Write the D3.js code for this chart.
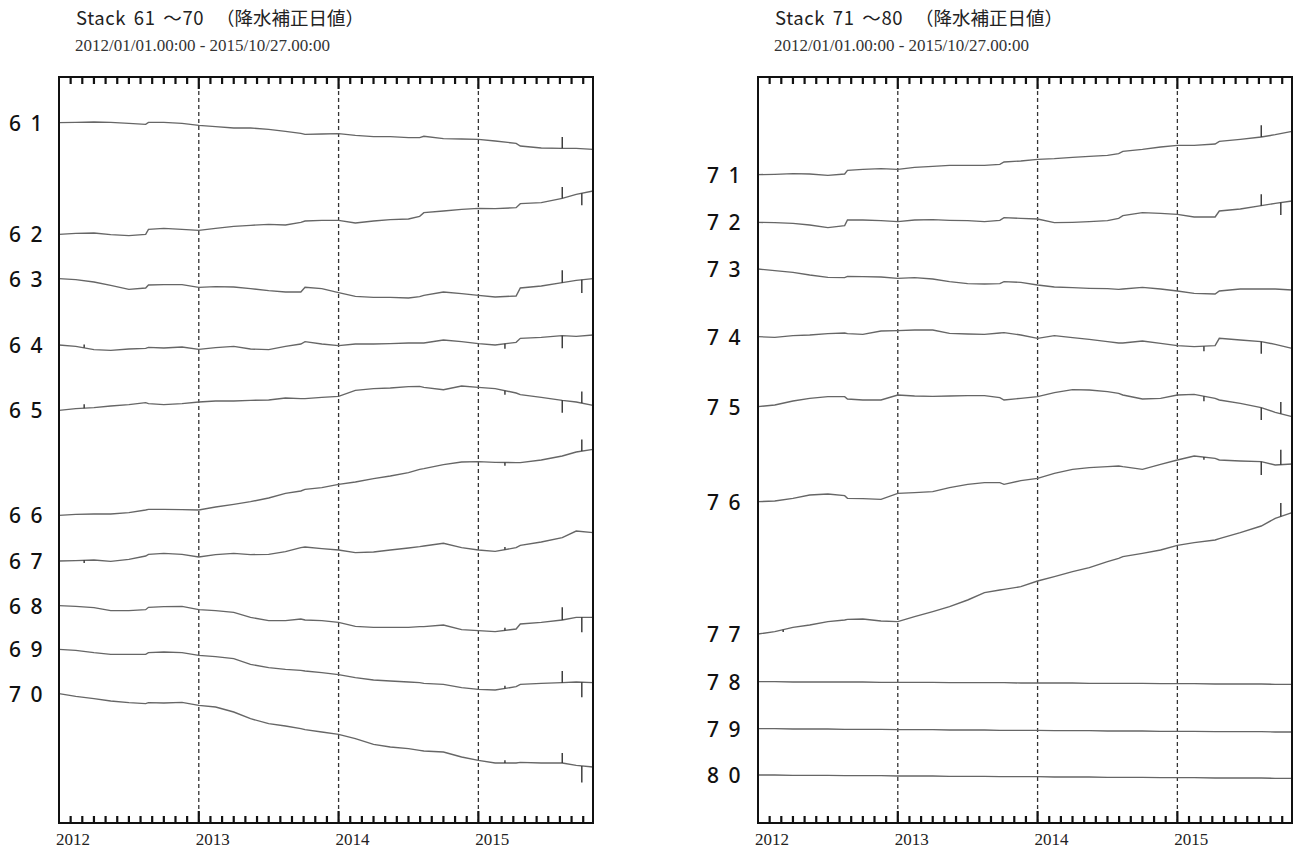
<!DOCTYPE html>
<html><head><meta charset="utf-8">
<script src="https://cdn.jsdelivr.net/npm/d3@7"></script>
<style>body{margin:0;background:#fff}svg{display:block}</style>
</head><body>
<svg id="c" width="1297" height="849" xmlns="http://www.w3.org/2000/svg"></svg>
<script>
// ---- data (decimal years, displacement values in stacked units) ----
const T = [2012.00, 2012.12, 2012.25, 2012.37, 2012.50, 2012.62, 2012.64, 2012.75, 2012.88,
           2013.00, 2013.12, 2013.25, 2013.37, 2013.50, 2013.62, 2013.73, 2013.76, 2013.88,
           2014.00, 2014.12, 2014.25, 2014.37, 2014.50, 2014.58, 2014.61, 2014.75, 2014.88,
           2015.00, 2015.12, 2015.27, 2015.30, 2015.45, 2015.60, 2015.70, 2015.82];

const leftStations = ["61","62","63","64","65","66","67","68","69","70"];
const leftBaselines = [13.7, 47.2, 60.5, 80.4, 100.0, 131.5, 145.2, 158.6, 171.7, 185.0];
const rightStations = ["71","72","73","74","75","76","77","78","79","80"];
const rightBaselines = [29.3, 43.6, 57.6, 77.9, 98.9, 127.4, 167.1, 181.4, 195.5, 209.4];

const v61 = [0,0.1,0.2,0.1,-0.2,-0.5,0.1,0.1,-0.2,-0.8,-1.2,-1.6,-1.6,-2.0,-2.6,-3.2,-3.5,-3.4,-3.3,-3.8,-4.2,-4.2,-4.5,-4.5,-4.1,-4.8,-4.9,-5.0,-5.5,-6.2,-7.0,-7.6,-7.7,-7.7,-8.0];
const v62 = [0,0.3,0.4,-0.1,-0.4,0,1.5,1.8,1.5,1.2,1.8,2.4,2.7,3.0,2.8,3.6,4.0,4.2,4.2,3.4,4.0,4.4,4.6,5.4,6.5,7.0,7.5,7.8,7.7,8.0,9.2,9.5,10.8,12.0,13.0];
const v63 = [0,-0.3,-1.0,-2.0,-3.2,-2.8,-1.9,-1.8,-1.8,-2.6,-2.4,-2.5,-3.0,-3.6,-4.0,-4.0,-2.6,-3.0,-4.2,-5.3,-5.6,-5.6,-5.8,-5.4,-5.0,-4.0,-4.5,-5.0,-5.5,-5.2,-2.8,-2.2,-1.2,-0.5,0];
const v64 = [0,-0.4,-1.4,-1.6,-1.2,-1.0,-0.7,-0.9,-0.6,-1.3,-0.8,-0.4,-1.2,-1.4,-0.4,0.3,1.0,0.3,-0.2,0.3,0.3,0.4,0.6,0.6,0.6,1.5,1.0,0.4,0.0,0.8,2.0,2.3,2.8,2.6,3.0];
const v65 = [0,0.5,0.8,1.3,1.7,2.3,2.0,1.7,2.0,2.5,2.8,2.8,3.0,3.1,3.7,3.5,3.5,3.9,4.2,6.0,6.5,6.7,7.1,7.2,6.9,6.2,7.3,6.9,6.5,5.2,4.7,3.9,3.0,2.5,1.5];
const v66 = [0,0.3,0.4,0.4,0.8,1.6,1.8,1.8,1.7,1.6,2.5,3.3,4.1,5.2,6.6,7.3,7.8,8.3,9.3,10.0,11.0,11.8,12.8,13.8,14.0,15.2,16.0,16.1,15.9,15.8,15.8,16.6,17.8,19.0,19.8];
const v67 = [0,0.1,0.3,-0.1,0.5,1.5,2.0,2.3,2.0,1.2,1.9,2.3,1.9,2.0,2.8,4.0,4.2,3.7,3.3,2.5,2.7,3.3,3.9,4.3,4.5,5.3,4.0,3.3,2.9,4.0,4.7,5.7,7.0,9.0,8.5];
const v68 = [0,-0.2,-0.6,-1.5,-1.5,-1.2,-0.5,-0.3,-0.2,-1.2,-1.5,-2.0,-3.5,-4.5,-4.5,-4.0,-4.3,-4.5,-5.0,-6.2,-6.5,-6.5,-6.5,-6.3,-6.3,-5.8,-7.2,-7.5,-7.8,-7.0,-5.5,-5.0,-4.3,-3.5,-3.5];
const v69 = [0,-0.3,-1.0,-1.5,-1.5,-1.5,-1.0,-0.8,-1.0,-1.8,-2.2,-2.8,-4.5,-5.5,-6.0,-6.3,-6.5,-7.0,-7.6,-8.5,-9.2,-9.5,-9.8,-10.0,-10.2,-10.5,-11.5,-12.0,-12.2,-11.2,-10.5,-10.2,-10.0,-9.8,-10.0];
const v70 = [0,-0.8,-1.5,-2.2,-2.7,-3.0,-2.7,-2.8,-2.6,-3.5,-4.0,-5.5,-7.5,-9.0,-9.7,-10.5,-10.8,-11.5,-12.2,-13.5,-15.2,-16.0,-16.5,-17.0,-17.2,-17.5,-19.0,-20.0,-20.8,-20.8,-20.6,-20.8,-20.8,-21.5,-22.0];
const v71 = [0,0.1,0.3,0.2,-0.2,0.2,1.3,1.6,1.8,1.6,2.2,2.5,2.8,2.8,2.8,3.1,3.8,4.1,4.6,4.8,5.2,5.5,5.8,6.3,7.0,7.6,8.3,8.8,8.8,9.2,10.0,10.6,11.3,12.0,13.0];
const v72 = [0,-0.1,-0.3,-0.8,-1.6,-1.0,0.7,0.7,0.5,0.2,0.7,0.8,0.6,0.5,0.2,0.6,1.4,1.2,1.0,-0.1,0.0,0.2,0.5,1.2,2.0,2.9,2.7,2.4,1.6,1.6,3.4,4.0,5.0,5.7,6.4];
const v73 = [0,-0.5,-1.0,-1.8,-2.5,-2.6,-2.2,-2.3,-2.4,-2.8,-2.6,-3.0,-3.8,-4.4,-4.5,-4.4,-3.8,-4.0,-4.8,-5.4,-5.6,-5.8,-5.9,-6.1,-6.0,-5.5,-6.0,-6.6,-7.3,-7.5,-6.6,-6.0,-6.0,-6.0,-6.3];
const v74 = [0,-0.2,0.3,0.5,0.9,1.1,0.9,0.7,1.7,1.8,2.0,2.0,1.0,0.8,0.7,1.1,1.2,0.5,-0.5,0.3,-0.3,-0.8,-1.5,-1.9,-1.9,-1.3,-2.0,-2.7,-3.0,-2.7,-0.5,-1.0,-1.5,-2.3,-3.5];
const v75 = [0,0.5,1.7,2.5,3.0,3.0,2.3,2.0,2.0,3.5,3.2,3.1,3.2,3.3,3.3,2.7,2.0,2.5,3.0,4.2,5.1,5.0,4.5,4.0,3.5,2.3,2.5,3.5,3.7,2.5,2.0,1.0,-0.3,-1.7,-3.0];
const v76 = [0,0.2,1.0,2.0,2.3,1.8,1.0,0.9,0.7,2.5,2.7,3.0,4.2,5.2,5.7,5.7,5.2,6.3,7.0,8.5,9.7,10.2,10.5,10.7,10.5,9.7,11.2,12.5,13.7,13.0,12.5,12.2,12.0,11.0,11.3];
const v77 = [0,0.7,2.0,2.7,3.7,4.2,4.4,4.5,3.9,3.7,5.2,6.7,8.2,10.2,12.4,13.2,13.4,14.2,15.9,17.2,18.7,19.9,21.7,22.7,23.2,24.2,25.2,26.6,27.4,28.2,28.6,30.4,32.4,34.7,36.4];
const v78 = [0,0,-0.1,-0.1,-0.1,-0.1,-0.1,-0.1,-0.2,-0.2,-0.2,-0.2,-0.3,-0.3,-0.3,-0.3,-0.3,-0.4,-0.4,-0.4,-0.4,-0.5,-0.5,-0.5,-0.5,-0.5,-0.6,-0.6,-0.6,-0.7,-0.7,-0.7,-0.7,-0.8,-0.8];
const v79 = [0,0,-0.1,-0.1,-0.1,-0.2,-0.2,-0.2,-0.2,-0.3,-0.3,-0.3,-0.4,-0.4,-0.4,-0.5,-0.5,-0.5,-0.5,-0.6,-0.6,-0.6,-0.7,-0.7,-0.7,-0.7,-0.8,-0.8,-0.8,-0.9,-0.9,-0.9,-0.9,-1.0,-1.0];
const v80 = [0,0,-0.1,-0.1,-0.1,-0.2,-0.2,-0.2,-0.2,-0.3,-0.3,-0.3,-0.4,-0.4,-0.4,-0.5,-0.5,-0.5,-0.5,-0.6,-0.6,-0.6,-0.7,-0.7,-0.7,-0.7,-0.8,-0.8,-0.8,-0.9,-0.9,-0.9,-0.9,-1.0,-1.0];

// single-day spikes: station, time, size
const spikeStation = ["61","62","62","63","63","64","64","64","65","65","65","65","66","66","67","67","68","68","68","69","69","69","70","70","70",
                      "71","72","72","74","74","75","75","75","76","76","76","77","77"];
const spikeTime = [2015.60,2015.60,2015.74,2015.60,2015.74,2012.18,2015.19,2015.60,2012.18,2015.19,2015.60,2015.74,2015.19,2015.74,2012.18,2015.19,2015.19,2015.60,2015.74,2015.19,2015.60,2015.74,2015.19,2015.60,2015.74,
                   2015.60,2015.60,2015.74,2015.19,2015.60,2015.19,2015.60,2015.74,2015.19,2015.60,2015.74,2012.18,2015.74];
const spikeSize = [3.4,3.4,-3.6,3.7,-4.0,1.0,-1.5,-3.8,1.2,-1.2,-3.7,3.5,-1.0,3.5,-0.8,0.8,0.8,3.8,-4.5,0.8,3.5,-4.5,0.8,3.0,-5.0,
                   3.5,3.4,-3.7,-1.5,-3.6,-1.5,-3.7,3.5,-0.8,-4.0,4.5,-0.7,4.0];

const yearTicks = [2012, 2013, 2014, 2015];
const monthIndex = [1,2,3,4,5,6,7,8,9,10,11,13,14,15,16,17,18,19,20,21,22,23,25,26,27,28,29,30,31,32,33,34,35,37,38,39,40,41,42,43,44,45];
const subtitleText = "2012/01/01.00:00 - 2015/10/27.00:00";

// ---- drawing ----
const svg = d3.select("#c");
const yTop = 77, yBot = 823;
const y = d3.scaleLinear().domain([0, 223.8]).range([yTop, yBot]);

const panels = [
  {x0: 59, x1: 593, t1: "Stack 61 ～70", stations: leftStations, base: leftBaselines,
   series: [v61,v62,v63,v64,v65,v66,v67,v68,v69,v70], tx: 76, px: 216, lx: 9},
  {x0: 758, x1: 1292, t1: "Stack 71 ～80", stations: rightStations, base: rightBaselines,
   series: [v71,v72,v73,v74,v75,v76,v77,v78,v79,v80], tx: 775, px: 915, lx: 707}
];

panels.forEach(p => {
  const x = d3.scaleLinear().domain([2012, 2015.82]).range([p.x0, p.x1]);
  const g = svg.append("g");

  // titles
  g.append("text").attr("x", p.tx).attr("y", 25).text(p.t1)
    .attr("font-family", "'Noto Sans CJK JP','Noto Sans'").attr("font-size", 18.5)
    .attr("letter-spacing", 0.6).attr("word-spacing", 3).attr("fill", "#222");
  g.append("text").attr("x", p.px).attr("y", 25).text("（降水補正日値）")
    .attr("font-family", "'Noto Sans CJK JP'").attr("font-size", 18.5).attr("fill", "#222");
  g.append("text").attr("x", p.tx - 1).attr("y", 51).text(subtitleText)
    .attr("font-family", "'Liberation Serif'").attr("font-size", 17).attr("fill", "#333");

  // dashed year lines
  for (const yr of yearTicks.slice(1)) {
    g.append("line").attr("x1", x(yr)).attr("x2", x(yr)).attr("y1", yTop).attr("y2", yBot)
      .attr("stroke", "#333").attr("stroke-width", 1.3).attr("stroke-dasharray", "4,3");
  }

  // year labels
  for (const yr of yearTicks) {
    g.append("text").attr("x", x(yr) - 3).attr("y", 845).text(String(yr))
      .attr("font-family", "'Liberation Serif'").attr("font-size", 17).attr("fill", "#222");
  }

  // series
  const line = d3.line();
  p.series.forEach((vals, i) => {
    const b = p.base[i];
    const pts = T.map((t, k) => [x(t), y(b - vals[k])]);
    g.append("path").attr("d", line(pts)).attr("fill", "none")
      .attr("stroke", "#666").attr("stroke-width", 1.4);
    g.append("text").attr("x", p.lx).attr("y", y(b) + 8)
      .text(p.stations[i].split("").join(" "))
      .attr("font-family", "'Noto Sans'").attr("font-size", 21).attr("font-weight", 500)
      .attr("letter-spacing", 2).attr("fill", "#111");
    const interp = d3.scaleLinear().domain(T).range(vals);
    spikeStation.forEach((s, j) => {
      if (s !== p.stations[i]) return;
      const t = spikeTime[j];
      const v0 = interp(t);
      g.append("line").attr("x1", x(t)).attr("x2", x(t))
        .attr("y1", y(b - v0)).attr("y2", y(b - v0 - spikeSize[j]))
        .attr("stroke", "#333").attr("stroke-width", 1.4);
    });
  });

  // frame
  g.append("rect").attr("x", p.x0).attr("y", yTop).attr("width", p.x1 - p.x0).attr("height", yBot - yTop)
    .attr("fill", "none").attr("stroke", "#111").attr("stroke-width", 2);

  // inward ticks, top and bottom (monthly short, yearly long) as one path
  const tp = d3.path();
  for (const m of monthIndex) {
    const xx = x(2012 + m / 12);
    tp.moveTo(xx, yTop); tp.lineTo(xx, yTop + 7);
    tp.moveTo(xx, yBot); tp.lineTo(xx, yBot - 7);
  }
  for (const yr of yearTicks.slice(1)) {
    const xx = x(yr);
    tp.moveTo(xx, yTop); tp.lineTo(xx, yTop + 12);
    tp.moveTo(xx, yBot); tp.lineTo(xx, yBot - 12);
  }
  g.append("path").attr("d", tp.toString()).attr("fill", "none")
    .attr("stroke", "#111").attr("stroke-width", 2.2);
});
</script>
</body></html>
